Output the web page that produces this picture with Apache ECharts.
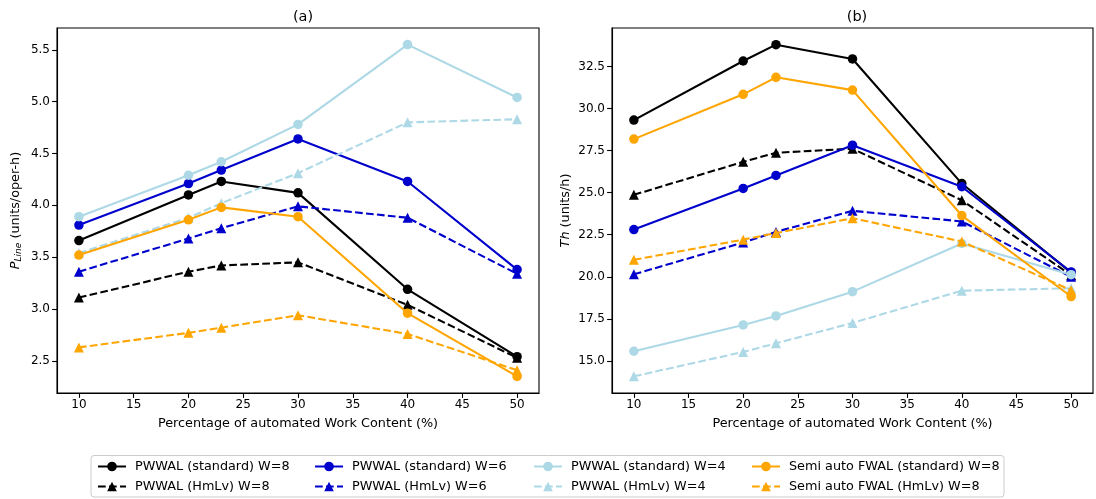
<!DOCTYPE html>
<html>
<head>
<meta charset="utf-8">
<title>PWWAL vs Semi auto FWAL</title>
<script src="https://cdn.jsdelivr.net/npm/echarts@6/dist/echarts.min.js"></script>
<style>
  html, body { margin: 0; padding: 0; background: #ffffff; }
  #chart { width: 1096px; height: 499px; }
</style>
</head>
<body>
<div id="chart"></div>
<script>
// Percentage of automated work content (x values shared by every series)
const automation = [10, 20, 23, 30, 40, 50];

// (a) Line productivity P_Line (units/oper-h)
const pStdW8   = [3.66, 4.10, 4.23, 4.12, 3.19, 2.54];
const pHmW8    = [3.11, 3.36, 3.42, 3.45, 3.04, 2.53];
const pStdW6   = [3.81, 4.21, 4.34, 4.64, 4.23, 3.38];
const pHmW6    = [3.36, 3.68, 3.78, 3.99, 3.88, 3.34];
const pStdW4   = [3.89, 4.29, 4.42, 4.78, 5.55, 5.04];
const pHmW4    = [3.54, 3.88, 4.02, 4.31, 4.80, 4.83];
const pSemiStd = [3.52, 3.86, 3.98, 3.89, 2.96, 2.35];
const pSemiHm  = [2.63, 2.77, 2.82, 2.94, 2.76, 2.41];

// (b) Throughput Th (units/h)
const tStdW8   = [29.31, 32.82, 33.79, 32.94, 25.54, 20.25];
const tHmW8    = [24.87, 26.83, 27.37, 27.61, 24.55, 20.10];
const tStdW6   = [22.81, 25.25, 26.02, 27.82, 25.35, 20.29];
const tHmW6    = [20.15, 22.04, 22.67, 23.92, 23.29, 20.00];
const tStdW4   = [15.58, 17.14, 17.68, 19.12, 21.98, 20.13];
const tHmW4    = [14.09, 15.54, 16.05, 17.26, 19.18, 19.32];
const tSemiStd = [28.18, 30.84, 31.85, 31.09, 23.64, 18.83];
const tSemiHm  = [21.01, 22.21, 22.60, 23.48, 22.10, 19.20];

// Tick labels
const xTicks  = [10, 15, 20, 25, 30, 35, 40, 45, 50];
const yTicksA = [2.5, 3.0, 3.5, 4.0, 4.5, 5.0, 5.5];
const yTicksB = [15.0, 17.5, 20.0, 22.5, 25.0, 27.5, 30.0, 32.5];

// Series names (legend order, column by column)
const names = [
  'PWWAL (standard) W=8', 'PWWAL (HmLv) W=8',
  'PWWAL (standard) W=6', 'PWWAL (HmLv) W=6',
  'PWWAL (standard) W=4', 'PWWAL (HmLv) W=4',
  'Semi auto FWAL (standard) W=8', 'Semi auto FWAL (HmLv) W=8'
];
const colors = ['#000000', '#000000', '#0000CD', '#0000CD', '#ADD8E6', '#ADD8E6', '#FFA500', '#FFA500'];
const dataA = [pStdW8, pHmW8, pStdW6, pHmW6, pStdW4, pHmW4, pSemiStd, pSemiHm];
const dataB = [tStdW8, tHmW8, tStdW6, tHmW6, tStdW4, tHmW4, tSemiStd, tSemiHm];

const FONT = 'DejaVu Sans';
const DASH = [7.7, 3.3];

function makeSeries(values, idx, panel) {
  const dashed = idx % 2 === 1;
  return {
    name: names[idx],
    type: 'line',
    xAxisIndex: panel,
    yAxisIndex: panel,
    data: automation.map((x, i) => [x, values[i]]),
    symbol: dashed ? 'triangle' : 'circle',
    symbolSize: dashed ? 10 : 9.5,
    showSymbol: true,
    color: colors[idx],
    itemStyle: { color: colors[idx], borderWidth: 0 },
    lineStyle: { color: colors[idx], width: 2.08, type: dashed ? DASH : 'solid' },
    emphasis: { disabled: true },
    z: 2 + idx
  };
}

function xAxis(gridIndex) {
  return {
    type: 'value',
    gridIndex: gridIndex,
    min: 8, max: 52,
    name: 'Percentage of automated Work Content (%)',
    nameLocation: 'middle',
    nameGap: 24,
    nameTextStyle: { fontFamily: FONT, fontSize: 12.8, color: '#000' },
    axisLine: { show: true, onZero: false, lineStyle: { color: '#000', width: 1.1 } },
    axisTick: { show: true, customValues: xTicks, length: 4.9, lineStyle: { color: '#000', width: 1.1 } },
    axisLabel: { customValues: xTicks, margin: 6, fontFamily: FONT, fontSize: 12, color: '#000' },
    splitLine: { show: false }
  };
}

function yAxis(gridIndex, min, max, ticks, name, gap, rich) {
  return {
    type: 'value',
    gridIndex: gridIndex,
    min: min, max: max,
    name: name,
    nameLocation: 'middle',
    nameRotate: 90,
    nameGap: gap,
    nameTextStyle: { fontFamily: FONT, fontSize: 12.8, color: '#000', rich: rich },
    axisLine: { show: true, lineStyle: { color: '#000', width: 1.1 } },
    axisTick: { show: true, customValues: ticks, length: 4.9, lineStyle: { color: '#000', width: 1.1 } },
    axisLabel: {
      customValues: ticks, margin: 7, fontFamily: FONT, fontSize: 12, color: '#000',
      formatter: v => Number(v).toFixed(1)
    },
    splitLine: { show: false }
  };
}

const richA = {
  i: { fontFamily: FONT, fontSize: 12.8, fontStyle: 'italic', color: '#000' },
  s: { fontFamily: FONT, fontSize: 9, fontStyle: 'italic', color: '#000', verticalAlign: 'bottom', padding: [6, 0, 0, 0] },
  n: { fontFamily: FONT, fontSize: 12.8, color: '#000' }
};
const richB = {
  i: { fontFamily: FONT, fontSize: 12.8, fontStyle: 'italic', color: '#000' },
  n: { fontFamily: FONT, fontSize: 12.8, color: '#000' }
};

// Legend: four columns of two entries, inside a rounded frame
const legendCols = [97, 314, 533, 751];
const legends = legendCols.map((left, c) => ({
  data: [names[2 * c], names[2 * c + 1]],
  orient: 'vertical',
  left: left,
  top: 460,
  padding: 0,
  itemGap: 7,
  itemWidth: 28,
  itemHeight: 12,
  selectedMode: false,
  textStyle: { fontFamily: FONT, fontSize: 12.8, color: '#000', padding: [0, 0, 0, 4] }
}));

const series = [];
dataA.forEach((d, i) => series.push(makeSeries(d, i, 0)));
dataB.forEach((d, i) => series.push(makeSeries(d, i, 1)));

const option = {
  animation: false,
  backgroundColor: '#ffffff',
  title: [
    { text: '(a)', left: 298, top: 5, textAlign: 'center',
      textStyle: { fontFamily: FONT, fontSize: 14.5, fontWeight: 'normal', color: '#000' } },
    { text: '(b)', left: 852, top: 5, textAlign: 'center',
      textStyle: { fontFamily: FONT, fontSize: 14.5, fontWeight: 'normal', color: '#000' } }
  ],
  grid: [
    { left: 57, top: 28, width: 482, height: 365, show: true, borderColor: '#000', borderWidth: 1.1, backgroundColor: 'transparent' },
    { left: 612, top: 28, width: 481, height: 365, show: true, borderColor: '#000', borderWidth: 1.1, backgroundColor: 'transparent' }
  ],
  xAxis: [xAxis(0), xAxis(1)],
  yAxis: [
    yAxis(0, 2.19, 5.71, yTicksA, '{i|P}{s|Line}{n| (units/oper-h)}', 34, richA),
    yAxis(1, 13.1, 34.78, yTicksB, '{i|Th}{n| (units/h)}', 40, richB)
  ],
  legend: legends,
  graphic: [{
    type: 'rect',
    shape: { x: 91, y: 455.5, width: 913, height: 41.5, r: 3 },
    style: { fill: '#ffffff', stroke: '#cccccc', lineWidth: 1 },
    z: -1,
    silent: true
  }],
  series: series
};

const chart = echarts.init(document.getElementById('chart'), null, { renderer: 'canvas' });
chart.setOption(option);
</script>
</body>
</html>
